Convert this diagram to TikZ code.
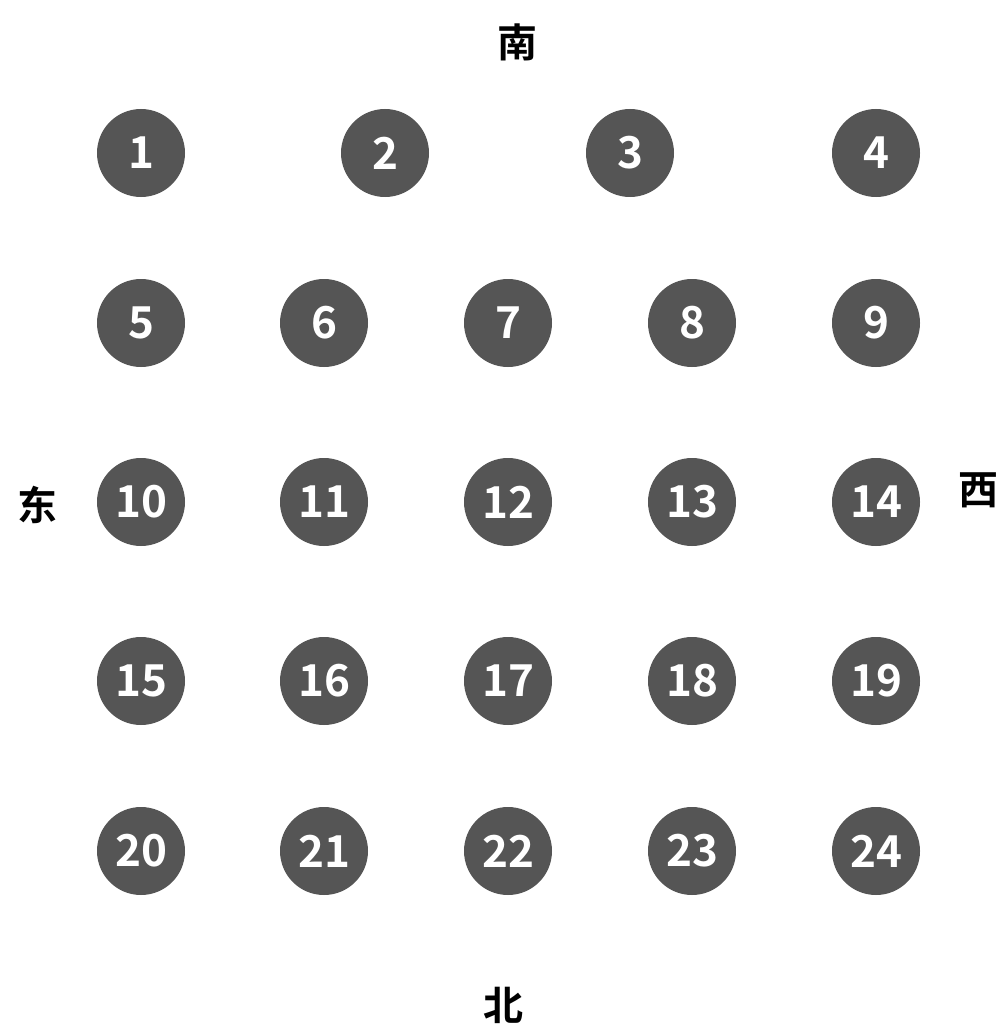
\documentclass[tikz,border=0pt]{standalone}
\usepackage{fontspec}
\setmainfont{Noto Sans CJK SC}[BoldFont={* Bold}]
\newfontfamily\cjkb{Noto Sans CJK SC Bold}
\begin{document}
\begin{tikzpicture}[x=1pt,y=-1pt,
  seat/.style={circle,fill=seatgray,minimum size=88pt,inner sep=0pt,text=white,font=\cjkb\fontsize{44}{44}\selectfont},
  dir/.style={font=\cjkb\fontsize{40}{40}\selectfont,text=black,inner sep=0pt}]
\definecolor{seatgray}{HTML}{555555}
\useasboundingbox[fill=white] (0,0) rectangle (1003,1027);
% row 1
\node[seat] (s1) at (141,153) {1};
\node[seat] (s2) at (385,153) {2};
\node[seat] (s3) at (630,153) {3};
\node[seat] (s4) at (876,153) {4};
% rows 2-5
\foreach \r/\y in {0/323,1/502,2/681,3/851}{
  \foreach \c/\x in {1/141,2/324,3/508,4/692,5/876}{
    \pgfmathtruncatemacro{\n}{5+5*\r+\c-1}
    \node[seat] (s\n) at (\x,\y) {\n};
  }
}
\node[dir] (south) at (517,42) {南};
\node[dir] (north) at (503,1005) {北};
\node[dir] (east) at (37,505) {东};
\node[dir] (west) at (978,490) {西};
\end{tikzpicture}
\end{document}
